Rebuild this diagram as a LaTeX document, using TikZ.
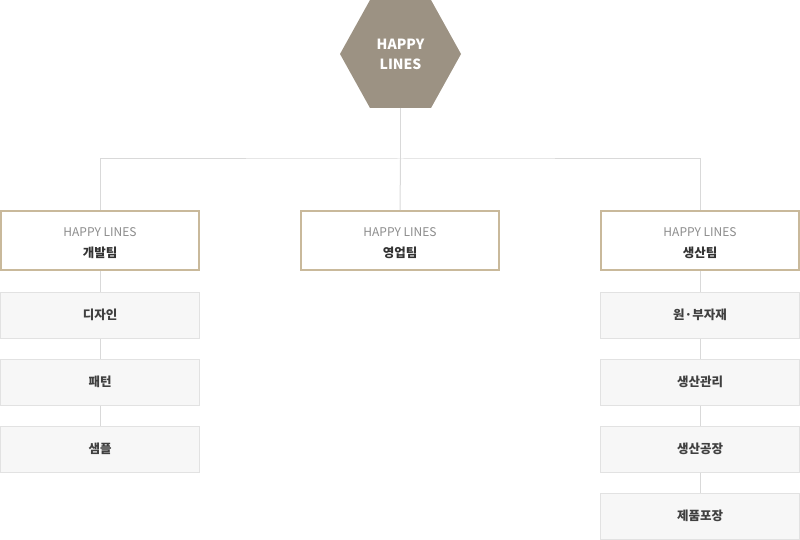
\documentclass[tikz,border=0pt]{standalone}
\usepackage{fontspec}
\setmainfont{Noto Sans CJK KR}
\usetikzlibrary{calc}
\definecolor{hexfill}{HTML}{9C9283}
\definecolor{teamline}{HTML}{C9B99B}
\definecolor{partfill}{HTML}{F7F7F7}
\definecolor{partline}{HTML}{E2E2E2}
\definecolor{linkgray}{HTML}{D9D9D9}

\begin{document}
\begin{tikzpicture}[x=1pt, y=-1pt,
  team/.style={draw=teamline, line width=2pt, fill=white, minimum width=198pt,
    minimum height=59pt, align=center, inner sep=0pt},
  part/.style={draw=partline, line width=1pt, fill=partfill, minimum width=199pt,
    minimum height=46pt, inner sep=0pt, text=black!75,
    font=\fontsize{12.5}{14}\selectfont\bfseries},
  link/.style={draw=linkgray, line width=1pt}]
  \useasboundingbox (0,0) rectangle (800,540);

  % top hexagon
  \fill[hexfill] (340,54) -- (370,0) -- (431,0) -- (461,54) -- (431,108) -- (370,108) -- cycle;
  \node[text=white, align=center, font=\fontsize{14}{20}\selectfont\bfseries] (top) at (400.5,54) {HAPPY\\LINES};
  \coordinate (topbase) at (400.5,108);
  \coordinate (bus) at (400.5,159);

  \def\teamBox#1#2#3{
    \node[team] (#1) at (#2,240.5) {};
    \node[font=\fontsize{12}{14}\selectfont, text=black!45] (#1-brand) at (#2,232.5) {HAPPY LINES};
    \node[font=\fontsize{12.5}{14}\selectfont\bfseries, text=black!80] (#1-name) at (#2,252.5) {#3};
  }

  \teamBox{dev}{100}{개발팀}
  \teamBox{sales}{400}{영업팀}
  \teamBox{prod}{700}{생산팀}

  % tree lines
  \draw[link] (topbase) -- (bus);
  \draw[link] (dev.north) |- (bus) -| (prod.north);
  \draw[link] (bus) -- (sales.north);

  % parts under each team
  \foreach \name/\txt [count=\i] in {d1/디자인, d2/패턴, d3/샘플} {
    \node[part] (\name) at (100,248+67*\i) {\txt};
  }
  \foreach \name/\txt [count=\i] in {p1/원·부자재, p2/생산관리, p3/생산공장, p4/제품포장} {
    \node[part] (\name) at (700,248+67*\i) {\txt};
  }

  \draw[link] (dev) -- (d1) -- (d2) -- (d3);
  \draw[link] (prod) -- (p1) -- (p2) -- (p3) -- (p4);
\end{tikzpicture}
\end{document}
